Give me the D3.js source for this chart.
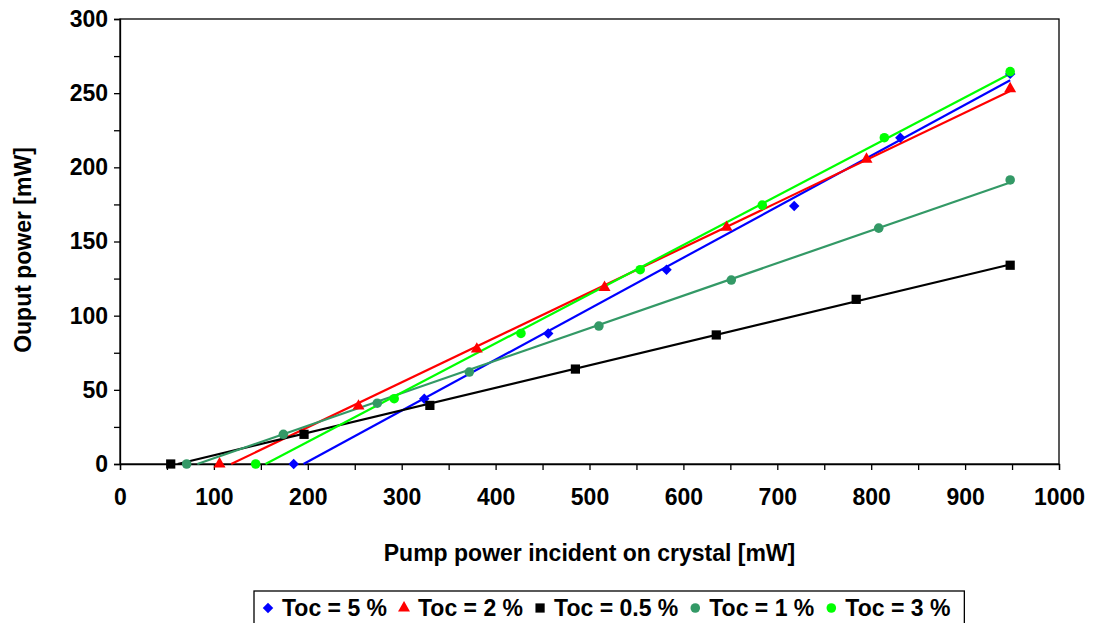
<!DOCTYPE html>
<html>
<head>
<meta charset="utf-8">
<script src="https://cdn.jsdelivr.net/npm/d3@7"></script>
<style>
  body { margin: 0; background: #fff; }
  text { font-family: "Liberation Sans", Arial, sans-serif; font-weight: bold; }
</style>
</head>
<body>
<div class="canvas"></div>
<script>
var w = 1093;
var h = 623;

// data (pump power mW, output power mW)
var seriesNames = ["Toc = 5 %", "Toc = 2 %", "Toc = 0.5 %", "Toc = 1 %", "Toc = 3 %"];

var pump5 = [185, 324, 456, 582, 718, 831, 948];
var out5 = [0, 44, 88, 131, 174, 220, 263];

var pump2 = [106, 254, 380, 516, 646, 795, 948];
var out2 = [0, 39, 77.5, 119, 159.5, 205.5, 253];

var pump05 = [54, 196, 330, 485, 635, 784, 948];
var out05 = [0, 20, 39.5, 64, 87, 111, 134];

var pump1 = [71, 174, 274, 372, 510, 651, 808, 948];
var out1 = [0, 20, 41, 62, 93, 124, 159, 191.5];

var pump3 = [144.5, 292, 427, 554, 684, 814, 948];
var out3 = [0, 44, 88, 131, 174.5, 220, 264.5];

var xTicks = d3.range(0, 1001, 50);
var xLabels = d3.range(0, 1001, 100);
var yTicks = d3.range(0, 301, 25);
var yLabels = d3.range(0, 301, 50);

var colors = ["#0000ff", "#ff0000", "#000000", "#339966", "#00ff00"];
var shapes = [d3.symbolDiamond2, d3.symbolTriangle, d3.symbolSquare, d3.symbolCircle, d3.symbolCircle];
var shapeSize = [70, 62, 85, 72, 72];

var series = [
    { name: seriesNames[0], x: pump5, y: out5 },
    { name: seriesNames[1], x: pump2, y: out2 },
    { name: seriesNames[2], x: pump05, y: out05 },
    { name: seriesNames[3], x: pump1, y: out1 },
    { name: seriesNames[4], x: pump3, y: out3 }
];

var fs = 23;

var xScale = d3.scaleLinear()
    .domain([0, 1000])
    .range([120, 1059]);

var yScale = d3.scaleLinear()
    .domain([0, 300])
    .range([464, 19]);

var svg = d3.select(".canvas").append("svg")
    .attr("width", w)
    .attr("height", h);

// plot area border
svg.append("rect")
    .attr("x", xScale(0))
    .attr("y", yScale(300))
    .attr("width", xScale(1000) - xScale(0))
    .attr("height", yScale(0) - yScale(300))
    .attr("fill", "none")
    .attr("stroke", "#000")
    .attr("stroke-width", 1.3);

// axes
var xAxis = d3.axisBottom(xScale).tickValues(xTicks).tickSize(6)
    .tickFormat(function (d) { return xLabels.indexOf(d) >= 0 ? d : ""; });
var yAxis = d3.axisLeft(yScale).tickValues(yTicks).tickSize(6)
    .tickFormat(function (d) { return yLabels.indexOf(d) >= 0 ? d : ""; });

var gx = svg.append("g")
    .attr("transform", "translate(0," + yScale(0) + ")")
    .call(xAxis);
gx.selectAll("text").attr("font-size", fs).attr("y", 25).attr("dy", "0.71em").attr("fill", "#000");

var gy = svg.append("g")
    .attr("transform", "translate(" + xScale(0) + ",0)")
    .call(yAxis);
gy.selectAll("text").attr("font-size", fs).attr("x", -12).attr("fill", "#000");

svg.selectAll(".domain, .tick line").attr("stroke", "#000").attr("stroke-width", 1.3);

// axis titles
svg.append("text")
    .attr("x", (xScale(0) + xScale(1000)) / 2)
    .attr("y", 561)
    .attr("text-anchor", "middle")
    .attr("font-size", fs)
    .text("Pump power incident on crystal [mW]");

svg.append("text")
    .attr("transform", "translate(31," + 250 + ") rotate(-90)")
    .attr("text-anchor", "middle")
    .attr("font-size", fs)
    .text("Ouput power [mW]");

// linear trend lines
function fit(xs, ys) {
    var mx = d3.mean(xs), my = d3.mean(ys);
    var num = 0, den = 0;
    for (var i = 0; i < xs.length; i++) {
        num += (xs[i] - mx) * (ys[i] - my);
        den += (xs[i] - mx) * (xs[i] - mx);
    }
    var slope = num / den;
    return { slope: slope, icept: my - slope * mx };
}

var layer1 = svg.append("g");
var layer2 = svg.append("g");

series.forEach(function (s, k) {
    var f = fit(s.x, s.y);
    var x0 = Math.max(d3.min(s.x), -f.icept / f.slope);
    var x1 = d3.max(s.x);
    layer1.append("line")
        .attr("x1", xScale(x0))
        .attr("y1", yScale(f.slope * x0 + f.icept))
        .attr("x2", xScale(x1))
        .attr("y2", yScale(f.slope * x1 + f.icept))
        .attr("stroke", colors[k])
        .attr("stroke-width", 2.2);

    layer2.selectAll(null)
        .data(d3.zip(s.x, s.y))
        .enter().append("path")
        .attr("d", d3.symbol().type(shapes[k]).size(shapeSize[k]))
        .attr("transform", function (d) { return "translate(" + xScale(d[0]) + "," + yScale(d[1]) + ")"; })
        .attr("fill", colors[k]);
});

// legend
var legend = svg.append("g");
var box = legend.append("rect")
    .attr("fill", "#fff")
    .attr("stroke", "#000")
    .attr("stroke-width", 1.3);

var cx = 268;
var ly = 608;
series.forEach(function (s, k) {
    legend.append("path")
        .attr("d", d3.symbol().type(shapes[k]).size(shapeSize[k]))
        .attr("transform", "translate(" + cx + "," + ly + ")")
        .attr("fill", colors[k]);
    var t = legend.append("text")
        .attr("x", cx + 14)
        .attr("y", ly + 8)
        .attr("font-size", fs)
        .text(s.name);
    cx = cx + 14 + t.node().getComputedTextLength() + 17;
});

box.attr("x", 254)
    .attr("y", 591)
    .attr("width", cx - 254 - 3)
    .attr("height", 40);
</script>
</body>
</html>
